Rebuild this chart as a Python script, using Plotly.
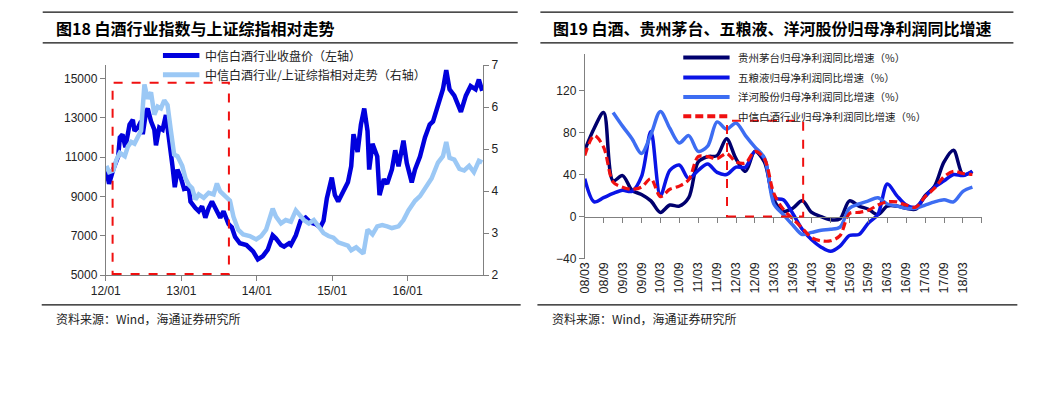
import plotly.graph_objects as go

# page body has an 8px margin; the figure is sized to fit inside the 1049x397 window
OFF = 8
FIG_W, FIG_H = 1049 - 2 * OFF, 397 - 2 * OFF

# ---------------- Left chart data ----------------
idx_dates = ["2012-01-04","2012-01-17","2012-02-06","2012-03-01","2012-03-09","2012-03-22","2012-04-05","2012-04-25",
             "2012-05-11","2012-05-19","2012-06-04","2012-06-20","2012-06-28","2012-07-14","2012-07-22","2012-08-07",
             "2012-08-23","2012-08-31","2012-09-16","2012-10-02","2012-10-18","2012-11-03","2012-11-19","2012-11-30",
             "2012-12-13","2012-12-29","2013-01-14","2013-02-06","2013-02-14","2013-03-10","2013-03-26","2013-04-11",
             "2013-04-27","2013-05-13","2013-05-29","2013-06-14","2013-07-08","2013-07-24","2013-08-17","2013-09-02",
             "2013-09-18","2013-10-11","2013-11-12","2013-12-14","2014-01-06","2014-01-30","2014-02-23","2014-03-19",
             "2014-04-04","2014-04-28","2014-05-13","2014-06-06","2014-06-15","2014-07-09","2014-08-01","2014-08-25",
             "2014-09-18","2014-10-12","2014-11-04","2014-11-20","2014-12-06","2014-12-30","2015-01-14","2015-01-30",
             "2015-02-23","2015-03-18","2015-04-03","2015-04-14","2015-05-04","2015-05-20","2015-06-05","2015-06-21",
             "2015-06-29","2015-07-15","2015-08-07","2015-08-18","2015-09-08","2015-09-24","2015-10-17","2015-11-02",
             "2015-11-18","2015-12-12","2015-12-28","2016-01-21","2016-02-06","2016-03-01","2016-03-25","2016-04-17",
             "2016-05-03","2016-05-27","2016-06-20","2016-07-06","2016-07-22","2016-08-14","2016-09-15","2016-10-09",
             "2016-11-01","2016-11-25","2016-12-11","2016-12-27"]
idx_vals = [10290,9640,10370,11030,12000,12150,11500,12660,
            12900,12330,12500,12820,12170,13310,13475,12820,
            12400,11600,12500,12400,13150,12000,10540,9475,
            10370,9960,9390,9470,8740,8410,8250,8500,
            7920,8410,8740,8410,7920,8250,7600,7430,
            6940,6620,6530,6210,5800,5960,6290,7020,
            6860,6530,6450,6620,6535,7025,7760,7920,
            7680,7600,7430,7760,8900,9960,9070,8740,
            9230,9720,10540,12170,11270,12660,13475,12330,
            10370,11680,11030,9070,9880,9640,10370,11350,
            10540,11840,10700,9720,10370,11030,12000,12660,
            12820,13640,14455,15435,14455,14130,13310,14130,
            14620,14455,14950,14375]

rel_dates = ["2012-01-04","2012-01-17","2012-02-06","2012-02-22","2012-03-09","2012-04-02","2012-04-17","2012-05-03",
             "2012-05-19","2012-06-04","2012-06-20","2012-07-06","2012-07-22","2012-08-07","2012-08-23","2012-09-08",
             "2012-09-24","2012-10-10","2012-10-26","2012-11-11","2012-11-27","2012-12-13","2013-01-05","2013-01-21",
             "2013-02-06","2013-02-22","2013-03-10","2013-03-26","2013-04-19","2013-05-13","2013-06-06","2013-06-22",
             "2013-07-08","2013-08-01","2013-08-24","2013-09-10","2013-10-03","2013-10-27","2013-11-28","2013-12-29",
             "2014-01-22","2014-02-15","2014-03-19","2014-04-04","2014-04-28","2014-05-21","2014-06-15","2014-07-09",
             "2014-07-24","2014-08-17","2014-09-10","2014-10-04","2014-10-27","2014-11-20","2014-12-14","2015-01-07",
             "2015-01-30","2015-02-23","2015-03-18","2015-04-03","2015-04-27","2015-05-13","2015-06-01","2015-06-21",
             "2015-07-15","2015-08-07","2015-08-31","2015-09-24","2015-10-17","2015-11-18","2015-12-12","2016-01-05",
             "2016-02-06","2016-03-01","2016-03-25","2016-04-26","2016-05-27","2016-06-20","2016-07-06","2016-07-22",
             "2016-08-14","2016-09-08","2016-10-01","2016-10-25","2016-11-17","2016-12-11","2016-12-27"]
rel_vals = [4.60,4.45,4.49,4.75,4.91,4.83,5.06,5.17,
            5.13,5.29,5.44,6.54,6.20,6.35,5.82,6.01,
            5.97,6.16,6.05,5.44,4.87,4.83,4.60,4.30,
            4.15,4.07,3.80,3.92,3.84,3.96,3.92,4.18,
            3.99,3.88,3.77,3.39,3.08,2.97,2.93,2.85,
            2.93,3.08,3.58,3.39,3.23,3.31,3.27,3.54,
            3.46,3.31,3.23,3.31,3.16,3.00,2.93,2.89,
            2.78,2.74,2.70,2.59,2.66,2.59,2.51,3.08,
            2.97,3.16,3.19,3.16,3.12,3.16,3.31,3.54,
            3.77,3.88,4.07,4.30,4.68,4.83,5.17,4.79,
            4.75,4.53,4.49,4.60,4.45,4.72,4.68]

left_x_range = ["2012-01-01", "2017-01-01"]
left_xtick_vals = ["2012-01-01", "2013-01-01", "2014-01-01", "2015-01-01", "2016-01-01"]
left_xtick_text = ["12/01", "13/01", "14/01", "15/01", "16/01"]
left_y_range = [5000, 15686]
left_y_ticks = [5000, 7000, 9000, 11000, 13000, 15000]
left_y2_range = [2, 7]
left_y2_ticks = [2, 3, 4, 5, 6, 7]
left_box = dict(x0="2012-02-03", x1="2013-08-19", y0=5050, y1=14790)

# ---------------- Right chart data ----------------
quarter_labels = ["08/03","08/09","09/03","09/09","10/03","10/09","11/03","11/09","12/03","12/09",
                  "13/03","13/09","14/03","14/09","15/03","15/09","16/03","16/09","17/03","17/09","18/03"]
q_index = list(range(42))
moutai = [63,84,99,34,39,25,21,15,4,11,
          10,18,52,57,58,74,55,43,62,52,
          16,5,8,15,4,0,-3,-2,15,10,
          7,2,10,10,8,7,20,29,52,63,
          40,43]
wuliangye = [36,14,18,22,25,24,38,81,20,44,
             49,36,44,50,42,40,47,47,62,55,
             18,16,3,-12,-22,-29,-33,-28,-18,-17,
             -6,2,31,20,11,9,19,28,34,40,
             39,43]
yanghe = [None,None,None,99,86,74,60,78,100,84,
          70,77,62,67,90,83,89,77,66,56,
          12,2,-8,-17,-15,-13,-12,-10,8,12,
          15,18,12,10,8,8,11,14,16,14,
          24,28]
industry = [58,77,66,33,28,26,28,36,19,26,
            29,35,57,57,55,60,52,51,62,55,
            22,7,-2,-11,-20,-23,-23,-18,3,4,
            6,11,14,14,11,9,19,27,38,43,
            41,40]
right_y_range = [-40, 155]
right_y_ticks = [-40, 0, 40, 80, 120]
right_box = dict(x0=15.05, x1=23.1, y0=0, y1=91)

# ---------------- Styling ----------------
AX = "#808080"
TXT = "#222222"
CJK = "Noto Sans CJK SC"
ARIAL = "Liberation Sans, Arial"

def px_x(p):
    return (p - OFF) / FIG_W

def px_y(p):
    return 1 - (p - OFF) / FIG_H

fig = go.Figure()

fig.add_trace(go.Scatter(x=idx_dates, y=idx_vals, mode="lines", xaxis="x", yaxis="y",
                         line=dict(color="#0000DD", width=4.5), showlegend=False))
fig.add_trace(go.Scatter(x=rel_dates, y=rel_vals, mode="lines", xaxis="x", yaxis="y2",
                         line=dict(color="#9BC8F5", width=4.5), showlegend=False))

right_series = [
    (moutai, "#00006E", "solid", 3.5),
    (wuliangye, "#0A14E6", "solid", 3.5),
    (yanghe, "#3D6DF2", "solid", 3.5),
    (industry, "#F01010", "8px,4px", 3.2),
]
for vals, col, dash, w in right_series:
    fig.add_trace(go.Scatter(x=q_index, y=vals, mode="lines", xaxis="x3", yaxis="y3",
                             line=dict(color=col, width=w, dash=dash, shape="spline", smoothing=0.9),
                             connectgaps=False, showlegend=False))
# invisible trace so the zero-line category axis is drawn
fig.add_trace(go.Scatter(x=[None], y=[None], xaxis="x4", yaxis="y3", showlegend=False, hoverinfo="skip"))

ldom_x = [px_x(92), px_x(475)]
ldom_y = [px_y(278), px_y(60)]
rdom_x = [px_x(578), px_x(981)]
rdom_y = [px_y(261), px_y(48)]
zero_pos = rdom_y[0] + (0 - right_y_range[0]) / (right_y_range[1] - right_y_range[0]) * (rdom_y[1] - rdom_y[0])

tickfont = dict(family=ARIAL, size=12, color=TXT)
common = dict(showgrid=False, zeroline=False, showline=True, linecolor=AX, linewidth=1,
              ticks="outside", ticklen=5, tickcolor=AX, tickfont=tickfont)

fig.update_layout(
    width=FIG_W, height=FIG_H, margin=dict(l=0, r=0, t=0, b=0),
    paper_bgcolor="white", plot_bgcolor="white",
    xaxis=dict(domain=ldom_x, anchor="y", type="date", range=left_x_range,
               tickmode="array", tickvals=left_xtick_vals, ticktext=left_xtick_text, **common),
    yaxis=dict(domain=ldom_y, anchor="x", range=left_y_range, tickmode="array",
               tickvals=left_y_ticks, tickformat="d", **common),
    yaxis2=dict(overlaying="y", side="right", anchor="x", range=left_y2_range, tickmode="array",
                tickvals=left_y2_ticks, **common),
    xaxis3=dict(domain=rdom_x, anchor="y3", range=[0, 42], tickmode="array",
                tickvals=list(range(0, 42, 2)), ticktext=quarter_labels, tickangle=-90,
                showgrid=False, zeroline=False, showline=False, ticks="",
                tickfont=dict(family=ARIAL, size=12.5, color=TXT)),
    xaxis4=dict(overlaying="x3", anchor="free", position=zero_pos, range=[0, 42], tickmode="array",
                tickvals=list(range(0, 43, 2)), showticklabels=False,
                showgrid=False, zeroline=False, showline=True, linecolor=AX, linewidth=1,
                ticks="outside", ticklen=5, tickcolor=AX),
    yaxis3=dict(domain=rdom_y, anchor="x3", range=right_y_range, tickmode="array",
                tickvals=right_y_ticks, **common),
)

shapes = []
# red dashed highlight boxes
shapes.append(dict(type="rect", xref="x", yref="y", line=dict(color="#F01010", width=2, dash="dash"), **left_box))
shapes.append(dict(type="rect", xref="x3", yref="y3", line=dict(color="#F01010", width=2, dash="dash"), **right_box))
# frame rules
for (x0, x1, y) in [(28, 510, 5), (28, 510, 37), (533, 1013, 5), (533, 1013, 37), (27, 513, 309), (530, 1017, 309)]:
    shapes.append(dict(type="line", xref="paper", yref="paper", x0=px_x(x0), x1=px_x(x1), y0=px_y(y), y1=px_y(y),
                       line=dict(color="#111111", width=1.3)))

annotations = []
def text(x, y, s, size, bold=False, color=TXT, family=CJK):
    annotations.append(dict(xref="paper", yref="paper", x=px_x(x), y=px_y(y), xanchor="left", yanchor="middle",
                            text=("<b>%s</b>" % s) if bold else s, showarrow=False,
                            font=dict(family=family, size=size, color=color)))

text(39, 21, "图18 白酒行业指数与上证综指相对走势", 16, bold=True, color="#000000")
text(544, 21, "图19 白酒、贵州茅台、五粮液、洋河股份归母净利润同比增速", 16, bold=True, color="#000000")
text(39, 323, "资料来源：Wind，海通证券研究所", 12, color="#222222")
text(543, 323, "资料来源：Wind，海通证券研究所", 12, color="#222222")

# left legend
left_legend = [("中信白酒行业收盘价（左轴）", "#0000DD", 50), ("中信白酒行业/上证综指相对走势（右轴）", "#9BC8F5", 70)]
for lab, col, y in left_legend:
    shapes.append(dict(type="line", xref="paper", yref="paper", x0=px_x(150), x1=px_x(187), y0=px_y(y), y1=px_y(y),
                       line=dict(color=col, width=5)))
    text(191, y, lab, 12)

# right legend
right_legend = [("贵州茅台归母净利润同比增速（%）", "#00006E", "solid", 52),
                ("五粮液归母净利润同比增速（%）", "#0A14E6", "solid", 73),
                ("洋河股份归母净利润同比增速（%）", "#3D6DF2", "solid", 93),
                ("中信白酒行业归母净利润同比增速（%）", "#F01010", "8px,4px", 113)]
for lab, col, dash, y in right_legend:
    shapes.append(dict(type="line", xref="paper", yref="paper", x0=px_x(678), x1=px_x(725), y0=px_y(y), y1=px_y(y),
                       line=dict(color=col, width=4, dash=dash)))
    text(731, y, lab, 10.5)

fig.update_layout(shapes=shapes, annotations=annotations)
fig.write_html("out.html")
